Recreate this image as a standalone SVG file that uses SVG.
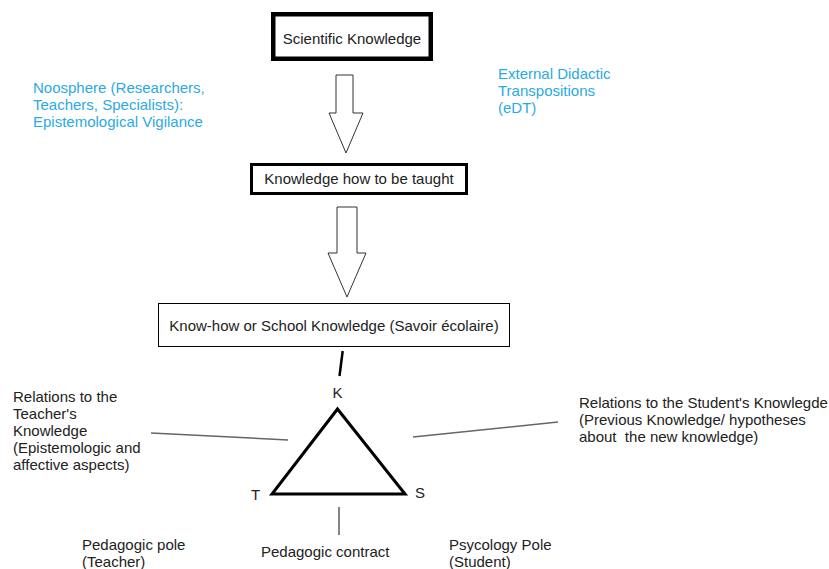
<svg xmlns="http://www.w3.org/2000/svg" width="829" height="569" viewBox="0 0 829 569">
  <style>
    text { font-family: "Liberation Sans", Arial, sans-serif; font-size: 15px; fill: #222; white-space: pre; }
    .blue { fill: #2aaae4; }
    .mid { text-anchor: middle; }
    .box { fill: #fff; stroke: #000; }
    .arrow { fill: #fff; stroke: #333; stroke-width: 1; }
    .lead { stroke: #666; stroke-width: 1.5; fill: none; }
  </style>
  <rect width="829" height="569" fill="#fff"/>

  <g id="scientific-knowledge">
    <rect class="box" x="273.25" y="14.25" width="157.5" height="44.5" stroke-width="4.5"/>
    <text class="mid" x="352" y="44">Scientific Knowledge</text>
  </g>

  <g id="noosphere">
    <text class="blue" x="33" y="93">Noosphere (Researchers,</text>
    <text class="blue" x="33" y="110">Teachers, Specialists):</text>
    <text class="blue" x="33" y="127">Epistemological Vigilance</text>
  </g>

  <g id="external-didactic">
    <text class="blue" x="498" y="79">External Didactic</text>
    <text class="blue" x="498" y="96">Transpositions</text>
    <text class="blue" x="498" y="113">(eDT)</text>
  </g>

  <g id="knowledge-to-be-taught">
    <rect class="box" x="251.5" y="164.5" width="215" height="29" stroke-width="3"/>
    <text class="mid" x="359" y="184">Knowledge how to be taught</text>
  </g>

  <g id="school-knowledge">
    <rect class="box" x="158.5" y="303.5" width="351" height="43" stroke-width="1"/>
    <text class="mid" x="334" y="331">Know-how or School Knowledge (Savoir écolaire)</text>
  </g>

  <g id="didactic-triangle">
    <polygon points="337.5,409 272,494 405,494" fill="none" stroke="#000" stroke-width="3" stroke-linejoin="miter"/>
    <text class="mid" x="337.5" y="398">K</text>
    <text x="251" y="500">T</text>
    <text x="415" y="498">S</text>
  </g>

  <g id="teacher-relations">
    <text x="13" y="402">Relations to the</text>
    <text x="13" y="419">Teacher's</text>
    <text x="13" y="436">Knowledge</text>
    <text x="13" y="453">(Epistemologic and</text>
    <text x="13" y="470">affective aspects)</text>
  </g>

  <g id="student-relations">
    <text x="579" y="408">Relations to the Student's Knowlegde</text>
    <text x="579" y="425">(Previous Knowledge/ hypotheses</text>
    <text x="579" y="442">about  the new knowledge)</text>
  </g>

  <g id="pedagogic-pole">
    <text x="82" y="550">Pedagogic pole</text>
    <text x="82" y="567">(Teacher)</text>
  </g>

  <g id="pedagogic-contract">
    <text x="261" y="557">Pedagogic contract</text>
  </g>

  <g id="psychology-pole">
    <text x="449" y="550">Psycology Pole</text>
    <text x="449" y="567">(Student)</text>
  </g>

  <g id="connectors">
    <polygon class="arrow" points="336,75 353,75 353,113 363,113 346,153 329,113 336,113"/>
    <polygon class="arrow" points="337,207 357,207 357,253 366,253 347,297 328,253 337,253"/>
    <line x1="342.7" y1="351" x2="339.5" y2="376" stroke="#000" stroke-width="2.5"/>
    <line class="lead" x1="151" y1="433" x2="288" y2="440"/>
    <line class="lead" x1="413" y1="437" x2="558" y2="422"/>
    <line x1="339" y1="507" x2="339" y2="535" stroke="#333" stroke-width="1.2"/>
  </g>
</svg>
